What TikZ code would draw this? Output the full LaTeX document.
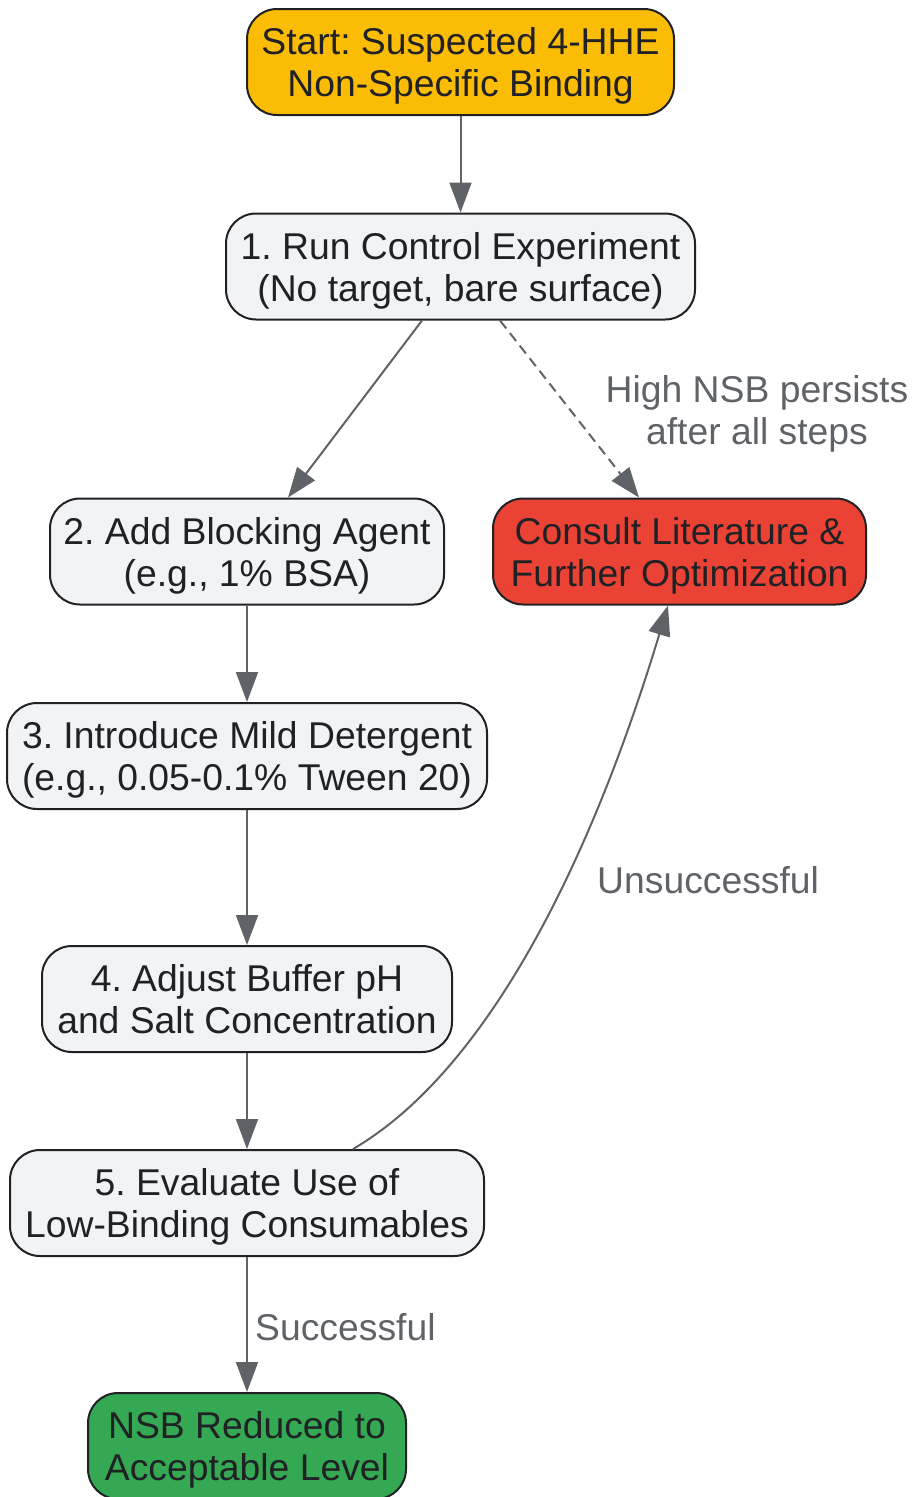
\documentclass[tikz,border=0pt]{standalone}
\usepackage{fontspec}
\setmainfont{Liberation Sans}
\usetikzlibrary{arrows.meta}
\definecolor{edgecol}{HTML}{5F6368}
\definecolor{bordercol}{HTML}{202124}
\definecolor{textcol}{HTML}{202124}
\definecolor{greyfill}{HTML}{F1F3F4}
\definecolor{yellowfill}{HTML}{FBBC05}
\definecolor{redfill}{HTML}{EA4335}
\definecolor{greenfill}{HTML}{34A853}
\frenchspacing
\begin{document}
\begin{tikzpicture}[x=1pt,y=-1pt,
  box/.style={draw=bordercol, line width=2pt, rounded corners=30pt, text=textcol,
    font=\fontsize{37.3}{42}\selectfont, align=center, inner sep=0pt, minimum height=106pt,
    text depth=-5pt},
  conn/.style={draw=edgecol, line width=2pt, -{Triangle[length=30pt,width=22pt]}},
  lbl/.style={text=edgecol, font=\fontsize{37.3}{42}\selectfont, align=center, inner sep=0pt}]
\useasboundingbox (0,0) rectangle (913,1497);

\node[box, fill=yellowfill, minimum width=427pt] (start) at (460.5,62) {Start: Suspected 4-HHE\\Non-Specific Binding};
\node[box, fill=greyfill, minimum width=469pt] (n1) at (460.5,266.5) {1. Run Control Experiment\\(No target, bare surface)};
\node[box, fill=greyfill, minimum width=394pt] (n2) at (247,551.5) {2. Add Blocking Agent\\(e.g., 1\% BSA)};
\node[box, fill=redfill, minimum width=373pt] (consult) at (679.5,551.5) {Consult Literature \&\\Further Optimization};
\node[box, fill=greyfill, minimum width=480pt] (n3) at (247,756) {3. Introduce Mild Detergent\\(e.g., 0.05-0.1\% Tween 20)};
\node[box, fill=greyfill, minimum width=410pt] (n4) at (247,999) {4. Adjust Buffer pH\\and Salt Concentration};
\node[box, fill=greyfill, minimum width=474pt] (n5) at (247,1203) {5. Evaluate Use of\\Low-Binding Consumables};
\node[box, fill=greenfill, minimum width=318pt] (done) at (247,1446) {NSB Reduced to\\Acceptable Level};

\draw[conn] (start) -- (n1);
\draw[conn] ([xshift=-38.5pt]n1.south) -- ([xshift=41pt]n2.north);
\draw[conn, dash pattern=on 10pt off 6pt] ([xshift=39.5pt]n1.south) -- ([xshift=-40.5pt]consult.north);
\draw[conn] (n2) -- (n3);
\draw[conn] (n3) -- (n4);
\draw[conn] (n4) -- (n5);
\draw[conn] (n5) -- (done);
\draw[conn] ([xshift=106pt]n5.north) .. controls (480,1075) and (585,880) .. ([xshift=-11.5pt]consult.south);

\node[lbl] (lab1) at (757,414) {High NSB persists\\after all steps};
\node[lbl, anchor=base west] (lab2) at (597,893) {Unsuccessful};
\node[lbl, anchor=base west] (lab3) at (255,1340) {Successful};
\end{tikzpicture}
\end{document}
